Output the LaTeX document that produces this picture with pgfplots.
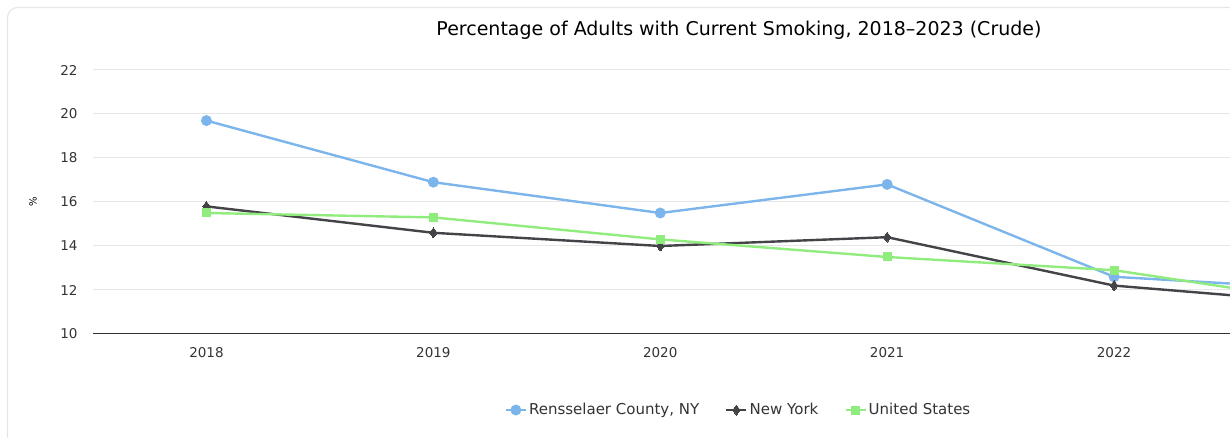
\documentclass[border=0pt]{standalone}
\usepackage{pgfplots}
\pgfplotsset{compat=1.18}
\usepackage{fontspec}
\setmainfont{DejaVu Sans}
\definecolor{cblue}{HTML}{7CB5EC}
\definecolor{cblack}{HTML}{434348}
\definecolor{cgreen}{HTML}{90ED7D}
\definecolor{cgrid}{HTML}{E6E6E6}
\definecolor{ctext}{HTML}{333333}
\definecolor{ctick}{HTML}{666666}
\begin{document}
\begin{tikzpicture}[x=1pt,y=1pt]
\useasboundingbox (0,0) rectangle (1230,438);
\begin{scope}
\clip (0,0) rectangle (1230,438);
\draw[cgrid, line width=1.2pt, rounded corners=10pt] (7.5,-20) -- (7.5,430.5) -- (1260,430.5);
\end{scope}
\node[font=\fontsize{19}{21}\selectfont, text=black] at (739,408) {Percentage of Adults with Current Smoking, 2018--2023 (Crude)};
\begin{axis}[
  at={(93pt,104pt)}, anchor=south west,
  scale only axis, width=1137pt, height=264pt,
  xmin=-0.5, xmax=4.511, ymin=10, ymax=22,
  clip=true,
  axis lines*=left,
  axis line style={draw=none},
  xtick={0,1,2,3,4},
  xticklabels={2018,2019,2020,2021,2022},
  major tick length=0pt,
  ytick={10,12,...,22},
  ymajorgrids, grid style={cgrid, line width=1pt},
  ylabel={\%},
  ticklabel style={font=\fontsize{13.5}{15}\selectfont, text=ctext},
  /pgf/number format/assume math mode=true,
  xticklabel style={yshift=-10pt},
  yticklabel style={xshift=-12pt},
  ylabel style={font=\fontsize{12}{13}\selectfont, text=ctick},
  every axis y label/.style={at={(rel axis cs:0,0.5)}, rotate=90, anchor=center, yshift=60pt},
  legend style={at={(0.5677,-0.288)}, anchor=center, draw=none, fill=none,
    font=\fontsize{15}{17}\selectfont, text=ctext,
    /tikz/every even column/.append style={column sep=24pt}},
  legend columns=3,
  legend image code/.code={\draw[#1, mark=none] (0pt,0pt) -- (20pt,0pt); \draw[#1, mark repeat=2, mark phase=2] plot coordinates {(0pt,0pt) (10pt,0pt) (20pt,0pt)};},
]
\draw[ctext, line width=1pt] (axis cs:-0.5,10) -- (axis cs:4.511,10);
\addplot[cblue, line width=2.4pt, mark=*, mark size=4.2pt, mark options={draw=cblue, fill=cblue}] coordinates {
 (0,19.7) (1,16.9) (2,15.5) (3,16.8) (4,12.6) (5,12.0)};
\addlegendentry{Rensselaer County, NY}
\addplot[cblack, line width=2.4pt, mark=diamond*, mark size=5pt, mark options={draw=cblack, fill=cblack, line width=0pt}] coordinates {
 (0,15.8) (1,14.6) (2,14.0) (3,14.4) (4,12.2) (5,11.35)};
\addlegendentry{New York}
\addplot[cgreen, line width=2.4pt, mark=square*, mark size=4pt, mark options={draw=cgreen, fill=cgreen, line width=0pt}] coordinates {
 (0,15.5) (1,15.3) (2,14.3) (3,13.5) (4,12.9) (5,11.35)};
\addlegendentry{United States}
\end{axis}
\end{tikzpicture}
\end{document}
